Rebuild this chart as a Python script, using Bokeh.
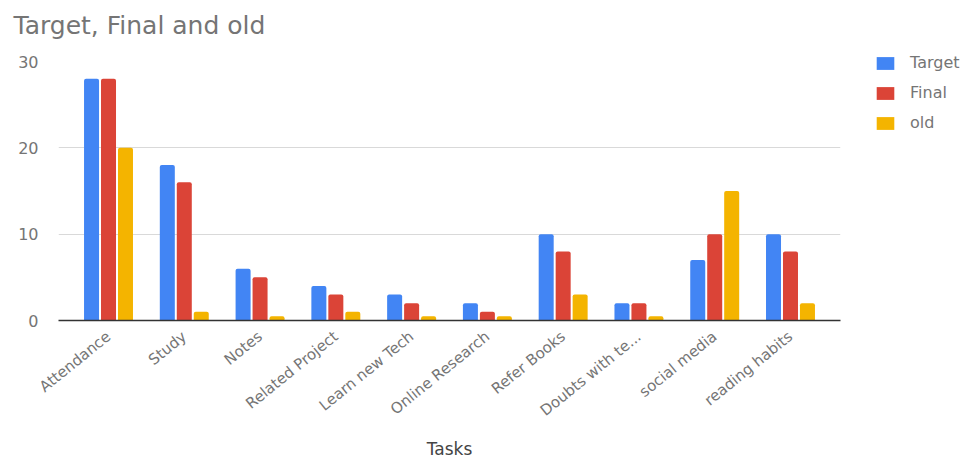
from bokeh.plotting import figure
from bokeh.models import FactorRange, Range1d, Legend, LegendItem, ColumnDataSource, FixedTicker, Title
from bokeh.transform import dodge
from bokeh.embed import file_html
from bokeh.resources import INLINE
import math

tasks = ["Attendance", "Study", "Notes", "Related Project", "Learn new Tech",
         "Online Research", "Refer Books", "Doubts with te...", "social media", "reading habits"]
target = [28, 18, 6, 4, 3, 2, 10, 2, 7, 10]
final = [28, 16, 5, 3, 2, 1, 8, 2, 10, 8]
old = [20, 1, 0.5, 1, 0.5, 0.5, 3, 0.5, 15, 2]
y_ticks = [0, 10, 20, 30]

FONT = "DejaVu Sans"
src = ColumnDataSource(dict(tasks=tasks, target=target, final=final, old=old))

p = figure(x_range=FactorRange(factors=tasks, range_padding=0.16, range_padding_units="absolute"),
           y_range=Range1d(0, 30),
           frame_width=782, frame_height=259, output_backend="svg", toolbar_location=None,
           min_border_left=58, min_border_right=129, min_border_top=61, min_border_bottom=141,
           title="Target, Final and old")

p.title.text_font = FONT
p.title.text_font_size = "25px"
p.title.text_font_style = "normal"
p.title.text_color = "#757575"
p.title.standoff = 0
p.title.offset = -45

# empty spacer between title and plot area, pushes the title up
spacer = Title(text=" ", text_font_size="10px", standoff=9, text_color="#ffffff")
p.add_layout(spacer, "above")

series = [("target", "Target", "#4285f4", -0.224),
          ("final", "Final", "#db4437", 0.0),
          ("old", "old", "#f4b400", 0.224)]
items = []
for col, name, color, off in series:
    r = p.vbar(x=dodge("tasks", off, range=p.x_range), top=col, width=0.198, source=src,
               fill_color=color, line_color=None, border_radius=(2, 2, 0, 0))
    items.append(LegendItem(label=name, renderers=[r]))

legend = Legend(items=items, location=(34, 188), border_line_color=None,
                background_fill_alpha=0, label_text_font=FONT, label_text_font_size="16px",
                label_text_color="#757575", glyph_width=22, glyph_height=16, spacing=11,
                label_standoff=14, padding=0, margin=0)
p.add_layout(legend, "right")

p.outline_line_color = None
p.xgrid.grid_line_color = None
p.ygrid.grid_line_color = "#d9d9d9"
p.ygrid.ticker = FixedTicker(ticks=y_ticks)
p.yaxis.ticker = FixedTicker(ticks=y_ticks)
p.yaxis.axis_line_color = None
p.yaxis.major_tick_line_color = None
p.yaxis.minor_tick_line_color = None
p.yaxis.major_label_text_font = FONT
p.yaxis.major_label_text_font_size = "16px"
p.yaxis.major_label_text_color = "#757575"
p.yaxis.major_label_standoff = 14

p.xaxis.axis_line_color = "#333333"
p.xaxis.axis_line_width = 1.5
p.xaxis.major_tick_line_color = None
p.xaxis.minor_tick_line_color = None
p.xaxis.major_label_orientation = math.radians(39)
p.xaxis.major_label_text_font = FONT
p.xaxis.major_label_text_font_size = "15px"
p.xaxis.major_label_text_color = "#757575"
p.xaxis.major_label_standoff = 8
p.xaxis.axis_label = "Tasks"
p.xaxis.axis_label_text_font = FONT
p.xaxis.axis_label_text_font_size = "17px"
p.xaxis.axis_label_text_font_style = "normal"
p.xaxis.axis_label_text_color = "#444444"
p.xaxis.axis_label_standoff = 9

open("out.html", "w").write(file_html(p, INLINE))
